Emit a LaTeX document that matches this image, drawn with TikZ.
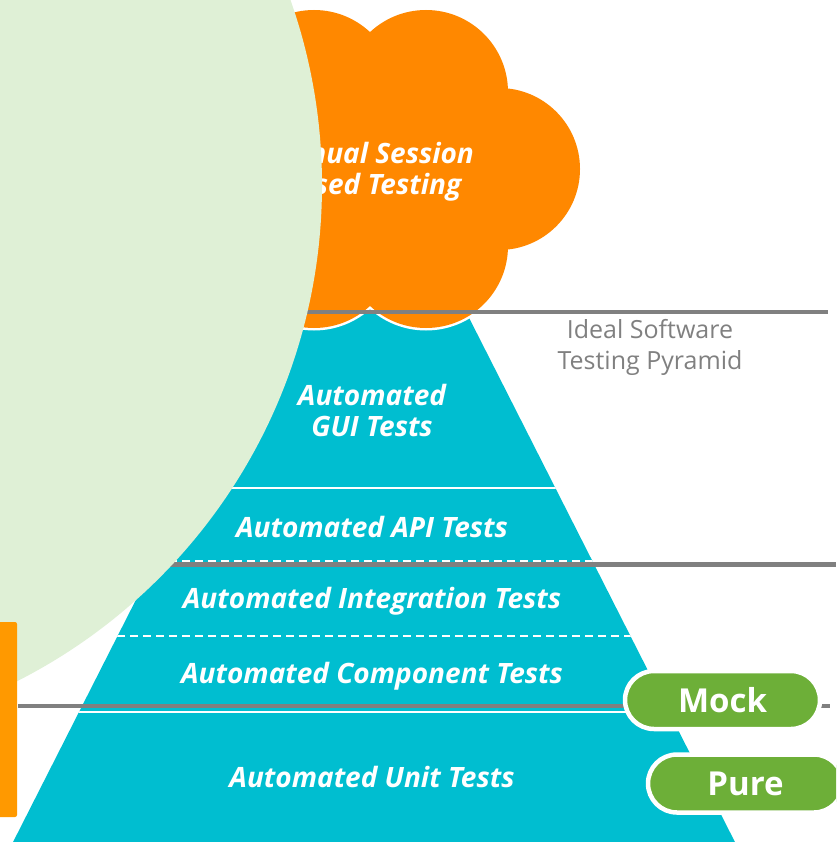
\documentclass[tikz,border=0pt]{standalone}
\usepackage{fontspec}
\setmainfont{Open Sans}
\definecolor{pyr}{RGB}{0,190,208}
\definecolor{cloudorange}{RGB}{255,136,0}
\definecolor{barorange}{RGB}{255,153,0}
\definecolor{bgreen}{RGB}{223,240,214}
\definecolor{pillgreen}{RGB}{109,175,56}
\definecolor{lgray}{RGB}{128,128,128}
\tikzset{
  pyrtext/.style={text=white, font=\fontsize{28}{31}\selectfont\bfseries\itshape, align=center, inner sep=0pt},
  graybar/.style={draw=lgray, line width=4.5pt},
  whitesep/.style={draw=white, line width=2pt},
  whitedash/.style={draw=white, line width=2pt, dash pattern=on 8pt off 5pt},
  pill/.style={fill=pillgreen, draw=white, line width=4.5pt, rounded corners=29pt, minimum width=195pt, minimum height=58pt, text=white, font=\fontsize{33}{40}\selectfont\bfseries, inner sep=0pt},
}
\begin{document}
\begin{tikzpicture}[x=1pt,y=-1pt]
\useasboundingbox (0,0) rectangle (836,842);
\clip (0,0) rectangle (836,842);
% pyramid
\fill[pyr] (288,300) -- (460,300) -- (739,850) -- (9,850) -- cycle;
\begin{scope}
  \clip (288,300) -- (460,300) -- (739,850) -- (9,850) -- cycle;
  \draw[whitesep] (0,488) -- (836,488);
  \draw[whitedash] (0,561) -- (836,561);
  \draw[whitedash] (0,636) -- (836,636);
  \draw[whitesep] (0,712) -- (836,712);
\end{scope}
\node[pyrtext] (gui) at (372,410) {Automated\\GUI Tests};
\node[pyrtext] (api) at (372,527) {Automated API Tests};
\node[pyrtext] (integ) at (372,601) {Automated Integration Tests};
\node[pyrtext] (comp) at (372,676) {Automated Component Tests};
\node[pyrtext] (unit) at (372,777) {Automated Unit Tests};
% cloud
\foreach \cx/\cy/\r in {426/92/82, 314/92/82, 426/246/82, 314/246/82, 499/169/81, 241/169/81, 370/169/110}{
  \fill[white] (\cx,\cy) circle (\r+2.5);
}
\foreach \cx/\cy/\r in {426/92/82, 314/92/82, 426/246/82, 314/246/82, 499/169/81, 241/169/81, 370/169/110}{
  \fill[cloudorange] (\cx,\cy) circle (\r);
}
\node[pyrtext] (manual) at (371,172) {Manual Session\\Based Testing};
% gray lines
\coordinate (g1a) at (0,312);
\coordinate (g1b) at (828,312);
\coordinate (g2a) at (0,564.5);
\coordinate (g2b) at (836,564.5);
\coordinate (g3a) at (18,706);
\coordinate (g3b) at (830,706);
\draw[graybar] (g1a) -- (g1b);
\draw[graybar] (g2a) -- (g2b);
\draw[graybar] (g3a) -- (g3b);
\node[text=lgray, font=\fontsize{25}{31}\selectfont, align=center, inner sep=0pt] (ideal) at (650,347) {Ideal Software\\Testing Pyramid};
% green circle
\fill[bgreen] (-234,185) circle (556);
% orange bar
\fill[barorange, rounded corners=2pt] (-5,622) rectangle (17,817);
% pills
\node[pill] (mock) at (722.5,700) {Mock};
\node[pill] (pure) at (745.5,783.5) {Pure};
\end{tikzpicture}
\end{document}
